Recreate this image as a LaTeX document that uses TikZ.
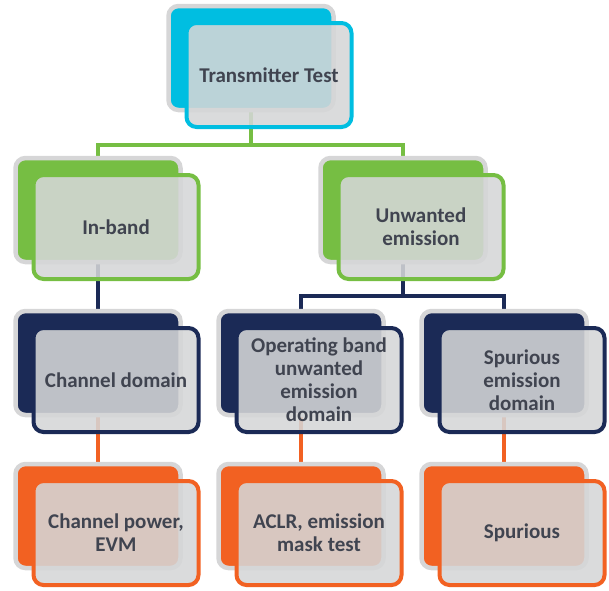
\documentclass[tikz,border=0pt]{standalone}
\usepackage{fontspec}
\setmainfont{Carlito}
\usepackage{tikz}
\usetikzlibrary{backgrounds}

\definecolor{tcyan}{RGB}{0,190,225}
\definecolor{tgreen}{RGB}{118,190,67}
\definecolor{tnavy}{RGB}{27,42,86}
\definecolor{torange}{RGB}{242,97,34}
\definecolor{lgrey}{RGB}{214,214,215}
\definecolor{fgrey}{RGB}{213,214,215}
\definecolor{tgrey}{RGB}{64,68,80}

\begin{document}
\begin{tikzpicture}[x=1pt, y=-1pt,
	back/.style={shape=rectangle, rounded corners=10pt, draw=lgrey, line width=4.5pt, minimum width=165pt, minimum height=104pt},
	front/.style={shape=rectangle, rounded corners=10pt, line width=4pt, minimum width=165pt, minimum height=104pt, fill=fgrey, fill opacity=0.88, text opacity=1, text=tgrey, align=center, font=\fontsize{21}{23}\selectfont\bfseries},
	link/.style={line width=4pt}]
				\useasboundingbox (0,0) rectangle (609,590);
				% back boxes
				\node[back, fill=tcyan] (top) at (251,58) {};
				\node[back, fill=tgreen] (inband) at (98,210) {};
				\node[back, fill=tgreen] (unwanted) at (403,210) {};
				\node[back, fill=tnavy] (chan) at (98,363) {};
				\node[back, fill=tnavy] (opband) at (301,363) {};
				\node[back, fill=tnavy] (spurdom) at (504,363) {};
				\node[back, fill=torange] (power) at (98,516) {};
				\node[back, fill=torange] (aclr) at (301,516) {};
				\node[back, fill=torange] (spur) at (504,516) {};
				% connectors
				\coordinate (s1) at (251,145);
				\coordinate (s2) at (403,296);
				\begin{pgfonlayer}{background}
				\draw[link, draw=tgreen] (top.center) -- (s1) -| (inband.center);
				\draw[link, draw=tgreen] (s1) -| (unwanted.center);
				\draw[link, draw=tnavy] (inband.center) -- (chan.center);
				\draw[link, draw=tnavy] (unwanted.center) -- (s2) -| (opband.center);
				\draw[link, draw=tnavy] (s2) -| (spurdom.center);
				\draw[link, draw=torange] (chan.center) -- (power.center);
				\draw[link, draw=torange] (opband.center) -- (aclr.center);
				\draw[link, draw=torange] (spurdom.center) -- (spur.center);
				\end{pgfonlayer}
				% front boxes
				\node[front, draw=tcyan] (topf) at ([shift={(18,17)}]top.center) {Transmitter Test};
				\node[front, draw=tgreen] (inbandf) at ([shift={(18,17)}]inband.center) {In-band};
				\node[front, draw=tgreen] (unwantedf) at ([shift={(18,17)}]unwanted.center) {Unwanted\\emission};
				\node[front, draw=tnavy] (chanf) at ([shift={(18,17)}]chan.center) {Channel domain};
				\node[front, draw=tnavy] (opbandf) at ([shift={(18,17)}]opband.center) {Operating band\\unwanted\\emission\\domain};
				\node[front, draw=tnavy] (spurdomf) at ([shift={(18,17)}]spurdom.center) {Spurious\\emission\\domain};
				\node[front, draw=torange] (powerf) at ([shift={(18,17)}]power.center) {Channel power,\\EVM};
				\node[front, draw=torange] (aclrf) at ([shift={(18,17)}]aclr.center) {ACLR, emission\\mask test};
				\node[front, draw=torange] (spurf) at ([shift={(18,17)}]spur.center) {Spurious};
			\end{tikzpicture}
\end{document}
